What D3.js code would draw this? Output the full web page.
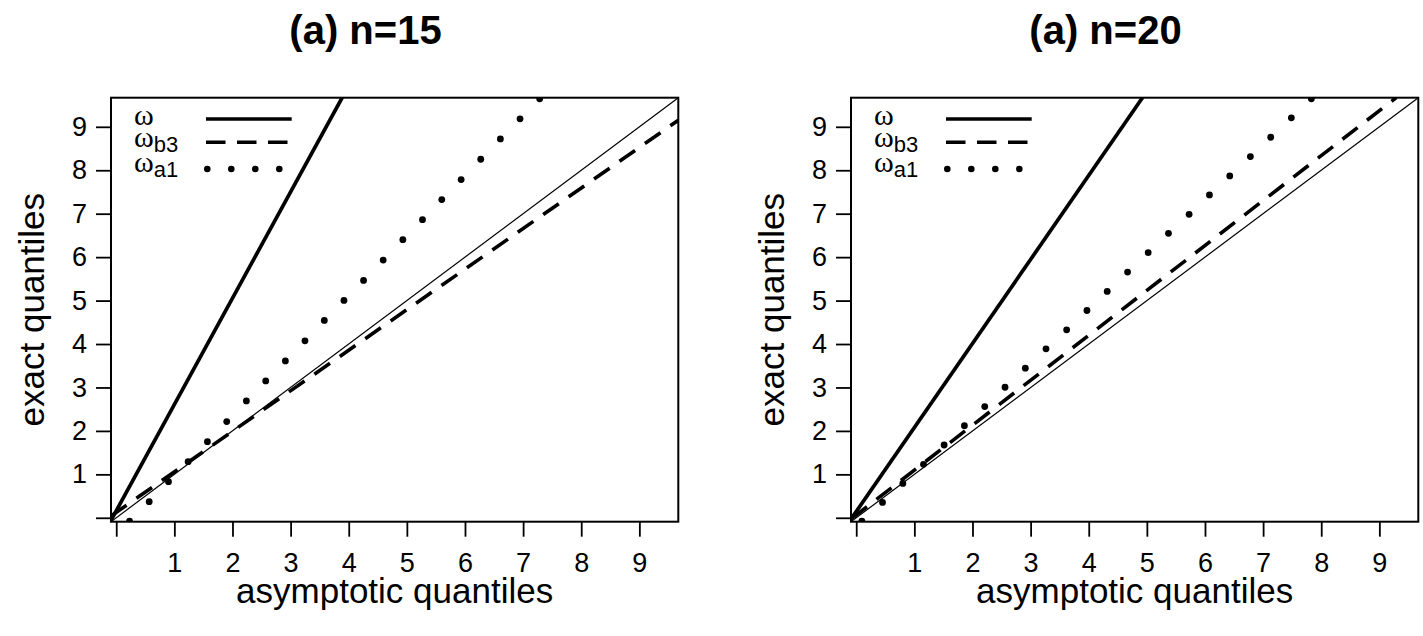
<!DOCTYPE html>
<html>
<head>
<meta charset="utf-8">
<script src="https://cdn.jsdelivr.net/npm/d3@7"></script>
<style>
  body { margin: 0; background: #fff; }
  text { fill: #000; }
</style>
</head>
<body>
<div id="chart"></div>
<script>
// Data
const panelTitles = ["(a) n=15", "(a) n=20"];
const axisLimits = [-0.09, 9.67];
const tickValues = [0, 1, 2, 3, 4, 5, 6, 7, 8, 9];

// reference line y = x
const identityLine = [[-0.09, -0.09], [9.67, 9.67]];

// omega (thick solid)
const omegaN15 = [[-0.09, -0.06], [3.89, 9.68]];
const omegaN20 = [[-0.10, -0.05], [4.93, 9.68]];

// omega_b3 (dashed)
const omegaB3N15 = [[-0.09, 0.04], [9.67, 9.15]];
const omegaB3N20 = [[-0.074, -0.014], [9.29, 9.67]];

// omega_a1 (dots)
const omegaA1xN15 = [0.229, 0.567, 0.899, 1.237, 1.569, 1.901, 2.239, 2.572, 2.910, 3.247, 3.580,
                     3.918, 4.255, 4.593, 4.931, 5.269, 5.601, 5.934, 6.271, 6.609, 6.947, 7.285];
const omegaA1yN15 = [-0.076, 0.370, 0.831, 1.292, 1.753, 2.214, 2.690, 3.151, 3.612, 4.073, 4.542,
                     5.003, 5.464, 5.933, 6.402, 6.863, 7.324, 7.785, 8.253, 8.722, 9.183, 9.644];
const omegaA1xN20 = [0.097, 0.452, 0.802, 1.157, 1.512, 1.861, 2.211, 2.560, 2.909, 3.265, 3.620, 3.969,
                     4.318, 4.668, 5.023, 5.372, 5.727, 6.077, 6.426, 6.781, 7.131, 7.486, 7.830];
const omegaA1yN20 = [-0.076, 0.354, 0.792, 1.230, 1.676, 2.121, 2.560, 3.005, 3.443, 3.889, 4.327, 4.772,
                     5.211, 5.656, 6.102, 6.548, 6.986, 7.431, 7.869, 8.315, 8.760, 9.206, 9.645];

const panels = [
    {title: panelTitles[0], omega: omegaN15, omegaB3: omegaB3N15,
     dots: omegaA1xN15.map((d, i) => [d, omegaA1yN15[i]])},
    {title: panelTitles[1], omega: omegaN20, omegaB3: omegaB3N20,
     dots: omegaA1xN20.map((d, i) => [d, omegaA1yN20[i]])}
];

const legendLabels = [["ω", ""], ["ω", "b3"], ["ω", "a1"]];

const width = 1423,
    height = 636;

const margin = {
    top: 97.7,
    left: 111
};
const plotW = 567.3,
    plotH = 424,
    panelStep = 740;

const font = "'Liberation Sans', Arial, Helvetica, sans-serif";

const svg = d3.select("#chart")
    .append("svg")
    .attr("width", width)
    .attr("height", height)
    .style("background", "#fff");

panels.forEach(function(p, i) {
    const left = margin.left + i * panelStep;
    const top = margin.top;

    const xScale = d3.scaleLinear().domain(axisLimits).range([left, left + plotW]);
    const yScale = d3.scaleLinear().domain(axisLimits).range([top + plotH, top]);

    const clipId = "clip" + i;
    svg.append("clipPath").attr("id", clipId)
        .append("rect")
        .attr("x", left).attr("y", top)
        .attr("width", plotW).attr("height", plotH);

    const line = d3.line().x(d => xScale(d[0])).y(d => yScale(d[1]));
    const plot = svg.append("g").attr("clip-path", `url(#${clipId})`);

    // thin reference line
    plot.append("path")
        .attr("d", line(identityLine))
        .attr("fill", "none")
        .attr("stroke", "#000")
        .attr("stroke-width", 1.2);

    // omega
    plot.append("path")
        .attr("d", line(p.omega))
        .attr("fill", "none")
        .attr("stroke", "#000")
        .attr("stroke-width", 3.7);

    // omega_b3
    plot.append("path")
        .attr("d", line(p.omegaB3))
        .attr("fill", "none")
        .attr("stroke", "#000")
        .attr("stroke-width", 3.6)
        .attr("stroke-dasharray", "19 12");

    // omega_a1
    plot.selectAll("circle")
        .data(p.dots)
        .enter()
        .append("circle")
        .attr("cx", d => xScale(d[0]))
        .attr("cy", d => yScale(d[1]))
        .attr("r", 3.4)
        .attr("fill", "#000");

    // axes
    const xAxis = svg.append("g")
        .attr("transform", `translate(0, ${top + plotH})`)
        .call(d3.axisBottom(xScale)
            .tickValues(tickValues)
            .tickSize(15)
            .tickPadding(16)
            .tickFormat(d => d === 0 ? "" : d));

    const yAxis = svg.append("g")
        .attr("transform", `translate(${left}, 0)`)
        .call(d3.axisLeft(yScale)
            .tickValues(tickValues)
            .tickSize(15)
            .tickPadding(9)
            .tickFormat(d => d === 0 ? "" : d));

    [xAxis, yAxis].forEach(function(ax) {
        ax.select(".domain").remove();
        ax.attr("font-family", font).attr("font-size", 27);
        ax.selectAll(".tick line").attr("stroke-width", 1.8);
    });

    // box
    svg.append("rect")
        .attr("x", left).attr("y", top)
        .attr("width", plotW).attr("height", plotH)
        .attr("fill", "none")
        .attr("stroke", "#000")
        .attr("stroke-width", 2);

    // title
    svg.append("text")
        .attr("x", left + 254.5)
        .attr("y", 44)
        .attr("text-anchor", "middle")
        .style("font-family", font)
        .style("font-weight", "bold")
        .style("font-size", "40px")
        .text(p.title);

    // x-axis label
    svg.append("text")
        .attr("x", left + plotW / 2)
        .attr("y", 603)
        .attr("text-anchor", "middle")
        .style("font-family", font)
        .style("font-size", "35px")
        .text("asymptotic quantiles");

    // y-axis label
    svg.append("text")
        .attr("transform", `translate(${left - 67.5}, ${top + plotH / 2}) rotate(-90)`)
        .attr("text-anchor", "middle")
        .style("font-family", font)
        .style("font-size", "35px")
        .text("exact quantiles");

    // legend
    const rowLine = [21.3, 44.6, 71.3];
    const rowText = [27.3, 49.3, 74];
    legendLabels.forEach(function(lab, j) {
        const t = svg.append("text")
            .attr("x", left + 23)
            .attr("y", top + rowText[j]);
        t.append("tspan")
            .style("font-family", "'Liberation Serif', 'DejaVu Serif', serif")
            .style("font-size", "30px")
            .text(lab[0]);
        if (lab[1]) {
            t.append("tspan")
                .attr("dy", 5)
                .style("font-family", font)
                .style("font-size", "22px")
                .text(lab[1]);
        }
    });

    svg.append("line")
        .attr("x1", left + 95).attr("x2", left + 180.7)
        .attr("y1", top + rowLine[0]).attr("y2", top + rowLine[0])
        .attr("stroke", "#000").attr("stroke-width", 3.6);

    svg.append("line")
        .attr("x1", left + 95).attr("x2", left + 177.5)
        .attr("y1", top + rowLine[1]).attr("y2", top + rowLine[1])
        .attr("stroke", "#000").attr("stroke-width", 3.6)
        .attr("stroke-dasharray", "19.5 11.5");

    svg.append("line")
        .attr("x1", left + 96.3).attr("x2", left + 169)
        .attr("y1", top + rowLine[2]).attr("y2", top + rowLine[2])
        .attr("stroke", "#000").attr("stroke-width", 6.6)
        .attr("stroke-linecap", "round")
        .attr("stroke-dasharray", "0 24");
});
</script>
</body>
</html>
